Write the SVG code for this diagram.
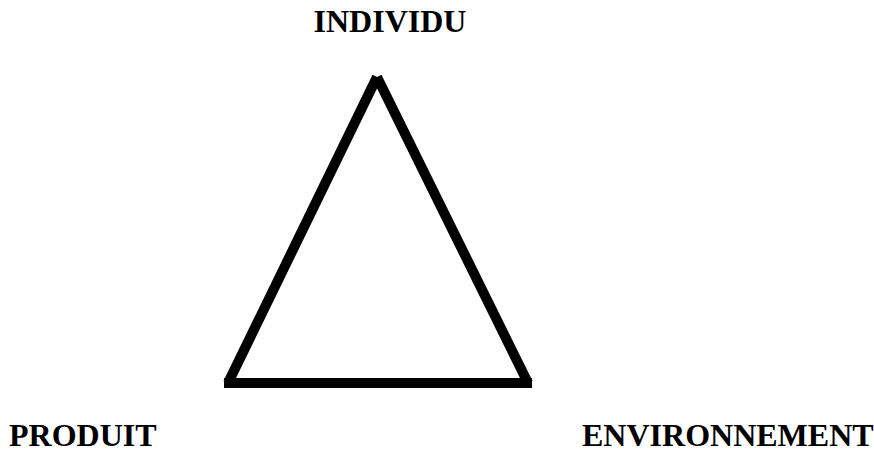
<svg xmlns="http://www.w3.org/2000/svg" width="874" height="452" viewBox="0 0 874 452">
<style>
.lbl{font-family:"Liberation Serif","Times New Roman",serif;font-weight:bold;font-size:32px;fill:#000}
.edge{stroke:#000;stroke-width:10;fill:none;stroke-linecap:butt}
</style>
<rect width="874" height="452" fill="#fff"/>
<g id="connectors">
<line class="edge" x1="377" y1="77" x2="228" y2="383"/>
<line class="edge" x1="377" y1="77" x2="528" y2="383"/>
<line class="edge" x1="224" y1="383" x2="532" y2="383"/>
</g>
<g id="individu"><text class="lbl" x="390" y="32" text-anchor="middle">INDIVIDU</text></g>
<g id="produit"><text class="lbl" x="9" y="446">PRODUIT</text></g>
<g id="environnement"><text class="lbl" x="582" y="446">ENVIRONNEMENT</text></g>
</svg>
